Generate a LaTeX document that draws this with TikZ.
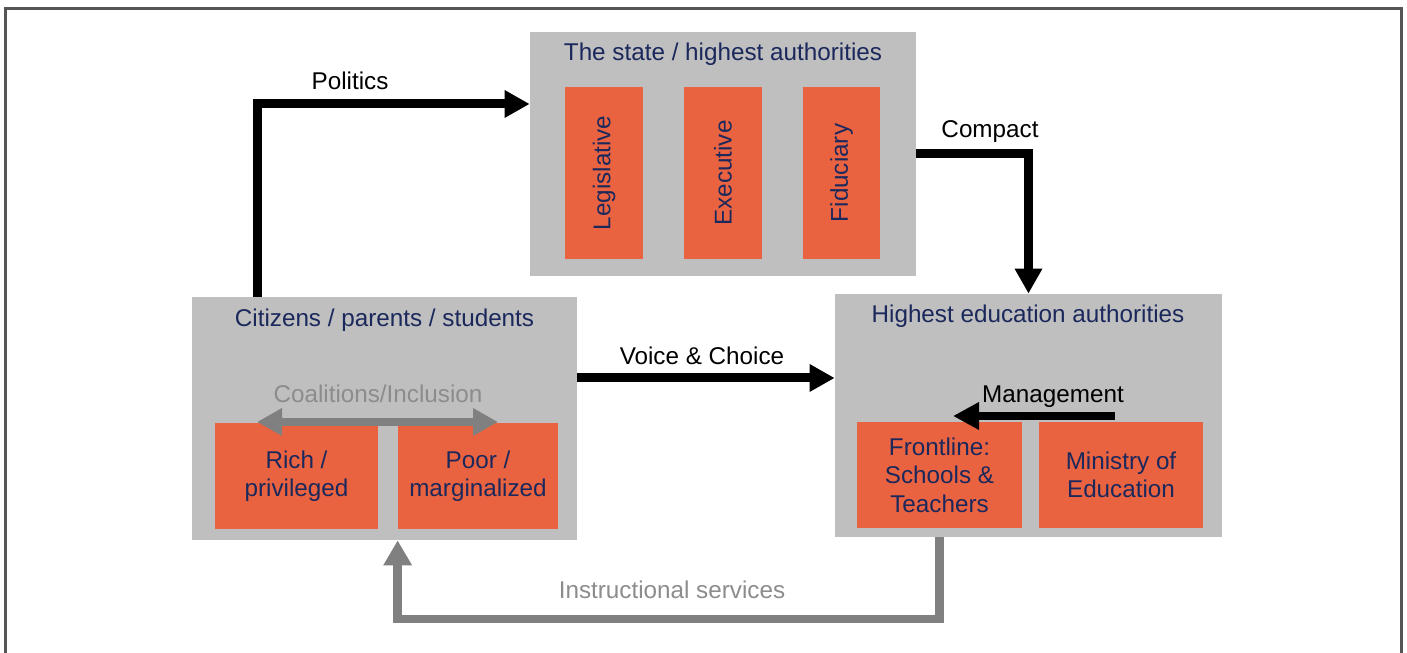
\documentclass[tikz,border=0pt]{standalone}
\usepackage{fontspec}
\setmainfont{Liberation Sans}
\usepackage{xcolor}
\definecolor{acgray}{RGB}{191,191,191}
\definecolor{acorange}{RGB}{234,99,65}
\definecolor{acnavy}{RGB}{27,40,92}
\definecolor{acarrow}{RGB}{128,128,128}
\definecolor{actext}{RGB}{140,140,140}
\definecolor{acframe}{RGB}{85,85,85}
\usepackage{tikz}
\usetikzlibrary{arrows.meta, positioning, calc}

\begin{document}
\begin{tikzpicture}[
  font=\fontsize{13.8pt}{16.2pt}\selectfont,
  group/.style={rectangle, fill=acgray, minimum width=#1, minimum height=4.86cm, inner sep=0pt},
  actor/.style={rectangle, fill=acorange, text=acnavy, align=center, inner sep=0pt,
                minimum width=#1, minimum height=2.12cm},
  branch/.style={rectangle, fill=acorange, text=acnavy, inner sep=0pt,
                 minimum width=1.56cm, minimum height=3.44cm},
  grouptitle/.style={text=acnavy, inner sep=0pt},
  flowlabel/.style={text=black, inner sep=0pt},
  arr/.style={-{Triangle[length=0.5cm, width=0.52cm]}, line width=0.18cm, draw=black},
  grayarr/.style={-{Triangle[length=0.5cm, width=0.54cm]}, line width=0.17cm, draw=acarrow}
]
\useasboundingbox (0,0) rectangle (28.14,13.06);
% frame
\draw[acframe, line width=0.06cm] (0.1,-0.2) -- (0.1,12.88) -- (28.02,12.88) -- (28.02,-0.2);

% The state
\node[group=7.72cm, minimum height=4.88cm] (state) at (14.46,9.98) {};
\node[grouptitle] (statetitle) at (14.46,11.98) {The state / highest authorities};
\node[branch] (legis) at (12.08,9.6) {\rotatebox{90}{Legislative}};
\node[branch] (exec) at (14.46,9.6) {\rotatebox{90}{Executive}};
\node[branch, minimum width=1.54cm] (fidu) at (16.83,9.6) {\rotatebox{90}{Fiduciary}};

% Citizens
\node[group=7.7cm] (citizens) at (7.69,4.69) {};
\node[grouptitle] (cittitle) at (7.69,6.66) {Citizens / parents / students};
\node[text=actext, inner sep=0pt] (coal) at (7.56,5.18) {Coalitions/Inclusion};
\node[actor=3.26cm] (rich) at (5.93,3.54) {Rich /\\privileged};
\node[actor=3.2cm] (poor) at (9.56,3.54) {Poor /\\marginalized};

% Highest education authorities
\node[group=7.74cm] (highed) at (20.57,4.75) {};
\node[grouptitle] (edtitle) at (20.56,6.74) {Highest education authorities};
\node[actor=3.3cm] (frontline) at (18.79,3.56) {Frontline:\\Schools \&\\Teachers};
\node[actor=3.28cm] (ministry) at (22.42,3.56) {Ministry of\\Education};

% Arrows
\coordinate (polcorner) at (5.14,10.98);
\draw[arr] (citizens.north -| polcorner) -- (polcorner) -- (state.west |- polcorner);
\node[flowlabel] (politics) at (7.0,11.44) {Politics};

\draw[arr] (state.east) -| (highed.north);
\node[flowlabel] (compact) at (19.8,10.42) {Compact};

\coordinate (voicey) at (0,5.5);
\draw[arr] (citizens.east |- voicey) -- (highed.west |- voicey);
\node[flowlabel] (voice) at (14.04,5.94) {Voice \& Choice};

\coordinate (mgmty) at (0,4.74);
\draw[-{Triangle[length=0.52cm, width=0.52cm]}, line width=0.16cm] (22.3,4.74) -- (19.06,4.74);
\node[flowlabel] (mgmt) at (21.06,5.12) {Management};

\draw[grayarr, {Triangle[length=0.5cm, width=0.52cm]}-{Triangle[length=0.5cm, width=0.52cm]}]
  (5.14,4.62) -- (9.96,4.62);

\coordinate (instr) at (0,0.68);
\draw[grayarr, line join=miter] (highed.south -| frontline) -- (frontline |- instr)
  -- (poor.west |- instr) -- (citizens.south -| poor.west);
\node[text=actext, inner sep=0pt] (instrlabel) at (13.44,1.26) {Instructional services};
\end{tikzpicture}
\end{document}
